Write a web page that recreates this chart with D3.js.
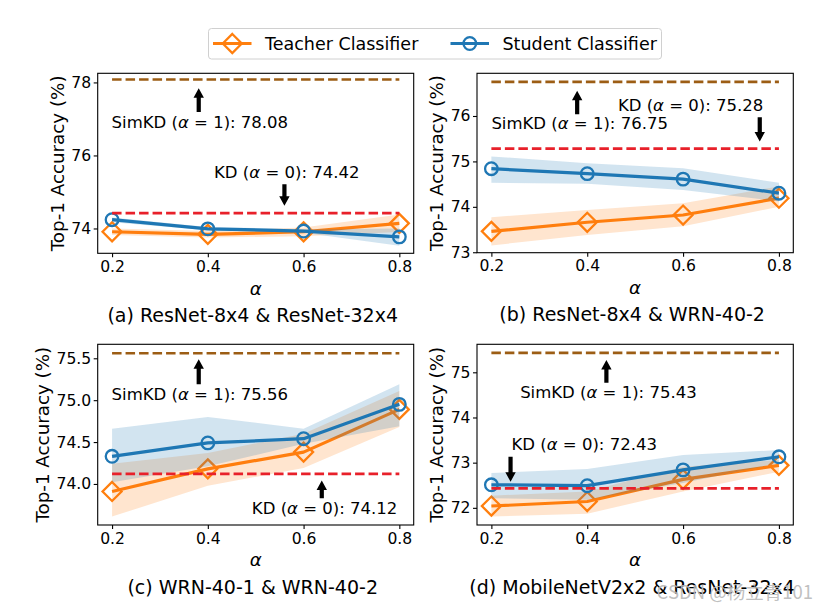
<!DOCTYPE html>
<html>
<head>
<meta charset="utf-8">
<script src="https://cdn.jsdelivr.net/npm/d3@7"></script>
<style>
  html, body { margin: 0; padding: 0; background: #fff; }
  svg { display: block; font-family: "DejaVu Sans", sans-serif; }
</style>
</head>
<body>
<svg id="chart" width="828" height="612"></svg>
<script>
// ---------------- data ----------------
const alphas = [0.2, 0.4, 0.6, 0.8];
const xTicks = [0.2, 0.4, 0.6, 0.8];
const captions = [
  "(a) ResNet-8x4 & ResNet-32x4",
  "(b) ResNet-8x4 & WRN-40-2",
  "(c) WRN-40-1 & WRN-40-2",
  "(d) MobileNetV2x2 & ResNet-32x4"
];
const seriesNames = ["Teacher Classifier", "Student Classifier"];

// (a)
const teacherA   = [73.91, 73.84, 73.91, 74.14];
const teacherALo = [73.82, 73.75, 73.79, 73.90];
const teacherAHi = [74.00, 73.93, 74.03, 74.38];
const studentA   = [74.24, 73.99, 73.93, 73.77];
const studentALo = [74.17, 73.95, 73.88, 73.53];
const studentAHi = [74.30, 74.04, 73.98, 74.00];
// (b)
const teacherB   = [73.46, 73.66, 73.82, 74.19];
const teacherBLo = [73.15, 73.38, 73.57, 74.00];
const teacherBHi = [73.77, 73.93, 74.08, 74.45];
const studentB   = [74.84, 74.73, 74.61, 74.30];
const studentBLo = [74.53, 74.51, 74.37, 74.12];
const studentBHi = [75.11, 74.96, 74.85, 74.53];
// (c)
const teacherC   = [73.91, 74.18, 74.38, 74.89];
const teacherCLo = [73.61, 73.98, 74.19, 74.68];
const teacherCHi = [74.24, 74.37, 74.60, 75.11];
const studentC   = [74.33, 74.49, 74.54, 74.95];
const studentCLo = [74.02, 74.21, 74.48, 74.69];
const studentCHi = [74.66, 74.80, 74.66, 75.19];
// (d)
const teacherD   = [72.04, 72.14, 72.63, 72.94];
const teacherDLo = [71.81, 71.87, 72.36, 72.80];
const teacherDHi = [72.27, 72.36, 72.91, 73.06];
const studentD   = [72.51, 72.49, 72.84, 73.13];
const studentDLo = [72.21, 72.18, 72.55, 72.99];
const studentDHi = [72.77, 72.86, 73.17, 73.28];

const simkdValues = [78.08, 76.75, 75.56, 75.43];
const kdValues    = [74.42, 75.28, 74.12, 72.43];

const yTicksA = [74, 76, 78];
const yTicksB = [73, 74, 75, 76];
const yTicksC = [74.0, 74.5, 75.0, 75.5];
const yTicksD = [72, 73, 74, 75];

// ---------------- layout ----------------
const colors = { teacher: "#ff7f0e", student: "#1f77b4", simkd: "#9c5d14", kd: "#e8202a" };
const panels = [
  { left: 97.7, top: 73.3, w: 316, h: 180, yDom: [73.32, 78.25], yTicks: yTicksA, fmt: d3.format("d"),
    teacher: teacherA, tLo: teacherALo, tHi: teacherAHi, student: studentA, sLo: studentALo, sHi: studentAHi,
    simText: [0.199, 76.92], simArrow: [0.381, 77.19, 77.84],
    kdText: [0.413, 75.55], kdArrow: [0.56, 75.21, 74.62] },
  { left: 477, top: 73.3, w: 316.3, h: 179.4, yDom: [72.99, 76.94], yTicks: yTicksB, fmt: d3.format("d"),
    teacher: teacherB, tLo: teacherBLo, tHi: teacherBHi, student: studentB, sLo: studentBLo, sHi: studentBHi,
    simText: [0.2, 75.84], simArrow: [0.379, 76.04, 76.555],
    kdText: [0.464, 76.24], kdArrow: [0.76, 75.97, 75.44] },
  { left: 97.7, top: 344.3, w: 316, h: 180.7, yDom: [73.51, 75.667], yTicks: yTicksC, fmt: d3.format(".1f"),
    teacher: teacherC, tLo: teacherCLo, tHi: teacherCHi, student: studentC, sLo: studentCLo, sHi: studentCHi,
    simText: [0.199, 75.07], simArrow: [0.381, 75.19, 75.49],
    kdText: [0.492, 73.71], kdArrow: [0.638, 73.83, 74.04] },
  { left: 477, top: 344.3, w: 316.3, h: 180.7, yDom: [71.62, 75.62], yTicks: yTicksD, fmt: d3.format("d"),
    teacher: teacherD, tLo: teacherDLo, tHi: teacherDHi, student: studentD, sLo: studentDLo, sHi: studentDHi,
    simText: [0.26, 74.57], simArrow: [0.44, 74.77, 75.27],
    kdText: [0.242, 73.41], kdArrow: [0.24, 73.13, 72.58] }
];

const svg = d3.select("#chart");
const FONT_TICK = 15.6, FONT_ANN = 16.5, FONT_LAB = 18.3, FONT_CAP = 19;

function diamondPath(r) { return `M0,${-r}L${r},0L0,${r}L${-r},0Z`; }

function mathLabel(sel, prefix, val, suffix) {
  sel.append("tspan").text(prefix);
  sel.append("tspan").attr("font-style", "italic").text("α");
  sel.append("tspan").text(" = " + val + suffix);
}

function arrow(g, x, y0, y1) {
  // y0 tail, y1 tip (pixels)
  const dir = Math.sign(y1 - y0);
  const headL = 9.5, headW = 5.2, shaftW = 2.1;
  const yb = y1 - dir * headL;
  const pts = [[x - shaftW, y0], [x + shaftW, y0], [x + shaftW, yb], [x + headW, yb], [x, y1], [x - headW, yb], [x - shaftW, yb]];
  g.append("path").attr("d", "M" + pts.map(p => p.join(",")).join("L") + "Z").attr("fill", "#000");
}

panels.forEach((p, i) => {
  const x = d3.scaleLinear().domain([0.17, 0.83]).range([p.left, p.left + p.w]);
  const y = d3.scaleLinear().domain(p.yDom).range([p.top + p.h, p.top]);
  const g = svg.append("g");

  const clipId = "clip" + i;
  svg.append("clipPath").attr("id", clipId).append("rect")
    .attr("x", p.left).attr("y", p.top).attr("width", p.w).attr("height", p.h);
  const plot = g.append("g").attr("clip-path", `url(#${clipId})`);

  const series = [
    { v: p.teacher, lo: p.tLo, hi: p.tHi, c: colors.teacher, m: "diamond" },
    { v: p.student, lo: p.sLo, hi: p.sHi, c: colors.student, m: "circle" }
  ];
  const line = d3.line().x((d, k) => x(alphas[k])).y(d => y(d));
  const area = d3.area().x((d, k) => x(alphas[k])).y0((d, k) => y(d[0])).y1((d, k) => y(d[1]));

  series.forEach(s => {
    plot.append("path").datum(s.v).attr("d", line).attr("fill", "none")
      .attr("stroke", s.c).attr("stroke-width", 3.2).attr("stroke-linejoin", "round");
    const marks = plot.append("g");
    s.v.forEach((v, k) => {
      if (s.m === "diamond") {
        marks.append("path").attr("d", diamondPath(9.5))
          .attr("transform", `translate(${x(alphas[k])},${y(v)})`)
          .attr("fill", "none").attr("stroke", s.c).attr("stroke-width", 2.3);
      } else {
        marks.append("circle").attr("cx", x(alphas[k])).attr("cy", y(v)).attr("r", 6.3)
          .attr("fill", "none").attr("stroke", s.c).attr("stroke-width", 2.3);
      }
    });
    plot.append("path").datum(s.lo.map((lo, k) => [lo, s.hi[k]])).attr("d", area)
      .attr("fill", s.c).attr("fill-opacity", 0.2).attr("stroke", "none");
  });

  // reference lines
  [[simkdValues[i], colors.simkd], [kdValues[i], colors.kd]].forEach(([v, c]) => {
    plot.append("line").attr("x1", x(0.2)).attr("x2", x(0.8)).attr("y1", y(v)).attr("y2", y(v))
      .attr("stroke", c).attr("stroke-width", 2.7).attr("stroke-dasharray", "9.5,4");
  });

  // annotations
  const st = g.append("text").attr("x", x(p.simText[0])).attr("y", y(p.simText[1])).attr("dy", "0.36em")
    .attr("font-size", FONT_ANN).attr("fill", "#000");
  mathLabel(st, "SimKD (", "1", "): " + simkdValues[i].toFixed(2));
  arrow(g, x(p.simArrow[0]), y(p.simArrow[1]), y(p.simArrow[2]));
  const kt = g.append("text").attr("x", x(p.kdText[0])).attr("y", y(p.kdText[1])).attr("dy", "0.36em")
    .attr("font-size", FONT_ANN).attr("fill", "#000");
  mathLabel(kt, "KD (", "0", "): " + kdValues[i].toFixed(2));
  arrow(g, x(p.kdArrow[0]), y(p.kdArrow[1]), y(p.kdArrow[2]));

  // axes
  const xAxis = g.append("g").attr("transform", `translate(0,${p.top + p.h})`)
    .call(d3.axisBottom(x).tickValues(xTicks).tickFormat(d3.format(".1f")).tickSize(4).tickPadding(3.5));
  const yAxis = g.append("g").attr("transform", `translate(${p.left},0)`)
    .call(d3.axisLeft(y).tickValues(p.yTicks).tickFormat(p.fmt).tickSize(4).tickPadding(2.5));
  [xAxis, yAxis].forEach(a => {
    a.select(".domain").remove();
    a.selectAll(".tick line").attr("stroke", "#000").attr("stroke-width", 1.1);
    a.selectAll(".tick text").attr("font-size", FONT_TICK).attr("font-family", "DejaVu Sans").attr("fill", "#000");
  });

  g.append("rect").attr("x", p.left).attr("y", p.top).attr("width", p.w).attr("height", p.h)
    .attr("fill", "none").attr("stroke", "#000").attr("stroke-width", 1.1);

  // labels
  const bb = yAxis.node().getBBox();
  const labX = p.left + bb.x - 14;
  g.append("text").attr("transform", `translate(${labX},${p.top + p.h / 2}) rotate(-90)`)
    .attr("text-anchor", "middle").attr("dy", "0.35em").attr("font-size", FONT_LAB).text("Top-1 Accuracy (%)");
  g.append("text").attr("x", p.left + p.w / 2).attr("y", p.top + p.h + 35).attr("dy", "0.35em")
    .attr("text-anchor", "middle").attr("font-size", FONT_LAB).attr("font-style", "italic").text("α");
  g.append("text").attr("x", p.left + p.w / 2 - 3).attr("y", p.top + p.h + 62).attr("dy", "0.35em")
    .attr("text-anchor", "middle").attr("font-size", FONT_CAP).text(captions[i]);
});

// legend
const lg = svg.append("g");
lg.append("rect").attr("x", 208.5).attr("y", 28.5).attr("width", 453).attr("height", 30.5).attr("rx", 3)
  .attr("fill", "#fff").attr("stroke", "#d0d0d0").attr("stroke-width", 1);
const legendItems = [
  { name: seriesNames[0], c: colors.teacher, m: "diamond", x0: 213 },
  { name: seriesNames[1], c: colors.student, m: "circle", x0: 450.5 }
];
legendItems.forEach(it => {
  const cy = 43.5;
  lg.append("line").attr("x1", it.x0).attr("x2", it.x0 + 38.5).attr("y1", cy).attr("y2", cy)
    .attr("stroke", it.c).attr("stroke-width", 3.2);
  if (it.m === "diamond") {
    lg.append("path").attr("d", diamondPath(9.5)).attr("transform", `translate(${it.x0 + 19.3},${cy})`)
      .attr("fill", "none").attr("stroke", it.c).attr("stroke-width", 2.3);
  } else {
    lg.append("circle").attr("cx", it.x0 + 19.3).attr("cy", cy).attr("r", 6.3)
      .attr("fill", "none").attr("stroke", it.c).attr("stroke-width", 2.3);
  }
  lg.append("text").attr("x", it.x0 + 52).attr("y", cy).attr("dy", "0.35em").attr("font-size", 17.5).text(it.name);
});

// watermark
svg.append("text").attr("x", 813).attr("y", 593).attr("dy", "0.35em").attr("text-anchor", "end")
  .attr("font-family", "'Noto Sans CJK SC', 'Noto Sans', sans-serif").attr("font-size", 18.5)
  .attr("fill", "#b8b8b8").attr("fill-opacity", 0.9).text("CSDN @杨立青101");
</script>
</body>
</html>
